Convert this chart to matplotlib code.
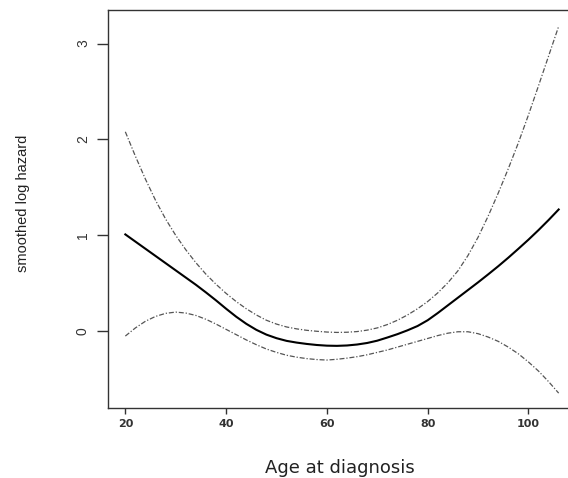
"""Smoothed log hazard by age at diagnosis, with pointwise confidence band."""

import matplotlib
import matplotlib.pyplot as plt

matplotlib.use('Agg')

# Age grid
age = [20, 22, 24, 26, 28, 30, 32, 34, 36, 38, 40, 42, 44, 46, 48, 50, 52, 54, 56, 58, 60, 62,
       64, 66, 68, 70, 72, 74, 76, 78, 80, 82, 84, 86, 88, 90, 92, 94, 96, 98, 100, 102, 104, 106]

# smoothed log hazard estimate
fit = [1.01, 0.935, 0.86, 0.785, 0.71, 0.635, 0.56, 0.485, 0.405, 0.322, 0.235, 0.152, 0.078,
       0.015, -0.035, -0.072, -0.10, -0.118, -0.132, -0.143, -0.15, -0.152, -0.148, -0.138,
       -0.122, -0.098, -0.065, -0.03, 0.01, 0.055, 0.115, 0.19, 0.27, 0.35, 0.43, 0.51,
       0.593, 0.678, 0.767, 0.86, 0.955, 1.055, 1.16, 1.27]

# upper confidence limit
upper = [2.08, 1.825, 1.585, 1.365, 1.17, 1.00, 0.85, 0.715, 0.595, 0.49, 0.395, 0.31, 0.235,
         0.17, 0.115, 0.075, 0.045, 0.025, 0.01, 0.0, -0.008, -0.012, -0.01, -0.003, 0.012,
         0.035, 0.07, 0.115, 0.17, 0.235, 0.31, 0.40, 0.505, 0.63, 0.79, 0.98, 1.20, 1.44,
         1.695, 1.965, 2.255, 2.56, 2.87, 3.18]

# lower confidence limit
lower = [-0.05, 0.035, 0.105, 0.155, 0.187, 0.20, 0.19, 0.165, 0.125, 0.075, 0.02, -0.035,
         -0.09, -0.14, -0.185, -0.22, -0.25, -0.27, -0.285, -0.295, -0.30, -0.292, -0.28,
         -0.265, -0.245, -0.22, -0.195, -0.165, -0.135, -0.105, -0.075, -0.045, -0.02,
         -0.005, -0.005, -0.025, -0.06, -0.105, -0.165, -0.235, -0.32, -0.415, -0.525, -0.645]

x_ticks = [20, 40, 60, 80, 100]
y_ticks = [0, 1, 2, 3]

W, H = 568, 478
fig = plt.figure(figsize=(W / 100, H / 100), dpi=100)
# axes box runs past the right edge of the picture, as in the reference
ax = fig.add_axes([108 / W, 70 / H, 468 / W, 398 / H])

band_style = dict(color='#555555', lw=0.9, linestyle=(0, (4, 1.5, 1, 1.5)))
ax.plot(age, upper, **band_style)
ax.plot(age, lower, **band_style)
ax.plot(age, fit, color='black', lw=1.5)

ax.set_xlim(16.56, 109.44)
ax.set_ylim(-0.80, 3.35)

for side in ['left', 'right', 'top', 'bottom']:
    ax.spines[side].set_color('#333333')
    ax.spines[side].set_linewidth(1.0)

ax.set_xticks(x_ticks)
ax.set_xticklabels([str(t) for t in x_ticks], fontfamily='DejaVu Sans', fontweight='bold',
                   fontsize=8, color='#333333')
ax.tick_params(axis='x', length=4, width=1, color='#333333', pad=4)

ax.set_yticks(y_ticks)
ax.set_yticklabels([str(t) for t in y_ticks], fontfamily='Liberation Sans', fontsize=10,
                   rotation=90, va='center', color='#333333')
ax.tick_params(axis='y', length=8, width=1, color='#333333', pad=5)

fig.text(340 / W, 1 - 468 / H, 'Age at diagnosis', ha='center', va='center',
         fontfamily='DejaVu Sans', fontsize=13, color='#222222')
fig.text(23 / W, 1 - 203 / H, 'smoothed log hazard', ha='center', va='center', rotation=90,
         fontfamily='Liberation Sans', fontsize=10.5, color='#222222')

plt.savefig('out.png', dpi=100)
plt.close(fig)
